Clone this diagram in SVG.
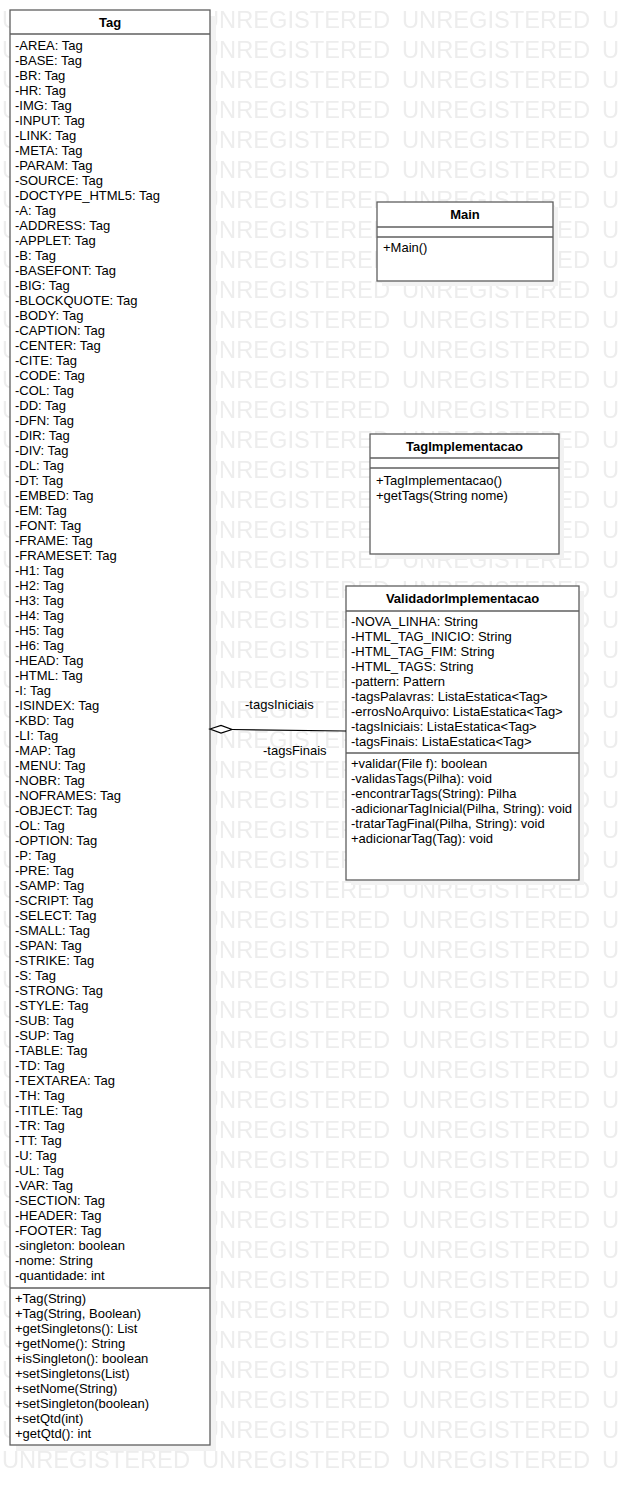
<svg xmlns="http://www.w3.org/2000/svg" width="619" height="1485" viewBox="0 0 619 1485">
<style>
  text { font-family: "Liberation Sans", Arial, sans-serif; font-size: 13px; fill: #000; }
  .title { font-weight: bold; text-anchor: middle; }
  .wm { font-size: 23px; fill: #ededed; }
  .box { fill: #fff; stroke: #5f5f5f; stroke-width: 1.3; }
  .sep { stroke: #5f5f5f; stroke-width: 1.3; }
  .shadow { fill: #f2f2f2; }
  .conn { stroke: #000; stroke-width: 1.2; fill: none; }
  .diamond { fill: #fff; stroke: #000; stroke-width: 1.2; }
</style>
<defs>
  <pattern id="watermark" patternUnits="userSpaceOnUse" x="0" y="0" width="200" height="30">
    <text class="wm" x="2" y="28" textLength="188" lengthAdjust="spacingAndGlyphs">UNREGISTERED</text>
  </pattern>
</defs>
<rect x="0" y="0" width="619" height="1485" fill="#fff"/>
<rect x="0" y="0" width="619" height="1472" fill="url(#watermark)"/>

<g id="Tag">
  <rect class="shadow" x="16" y="16" width="200" height="1435"/>
  <rect class="box" x="10" y="10" width="200" height="1435"/>
  <line class="sep" x1="10" y1="34" x2="210" y2="34"/>
  <line class="sep" x1="10" y1="1288" x2="210" y2="1288"/>
  <text class="title" x="110" y="27">Tag</text>
  <text x="15" y="50">-AREA: Tag</text>
  <text x="15" y="65">-BASE: Tag</text>
  <text x="15" y="80">-BR: Tag</text>
  <text x="15" y="95">-HR: Tag</text>
  <text x="15" y="110">-IMG: Tag</text>
  <text x="15" y="125">-INPUT: Tag</text>
  <text x="15" y="140">-LINK: Tag</text>
  <text x="15" y="155">-META: Tag</text>
  <text x="15" y="170">-PARAM: Tag</text>
  <text x="15" y="185">-SOURCE: Tag</text>
  <text x="15" y="200">-DOCTYPE_HTML5: Tag</text>
  <text x="15" y="215">-A: Tag</text>
  <text x="15" y="230">-ADDRESS: Tag</text>
  <text x="15" y="245">-APPLET: Tag</text>
  <text x="15" y="260">-B: Tag</text>
  <text x="15" y="275">-BASEFONT: Tag</text>
  <text x="15" y="290">-BIG: Tag</text>
  <text x="15" y="305">-BLOCKQUOTE: Tag</text>
  <text x="15" y="320">-BODY: Tag</text>
  <text x="15" y="335">-CAPTION: Tag</text>
  <text x="15" y="350">-CENTER: Tag</text>
  <text x="15" y="365">-CITE: Tag</text>
  <text x="15" y="380">-CODE: Tag</text>
  <text x="15" y="395">-COL: Tag</text>
  <text x="15" y="410">-DD: Tag</text>
  <text x="15" y="425">-DFN: Tag</text>
  <text x="15" y="440">-DIR: Tag</text>
  <text x="15" y="455">-DIV: Tag</text>
  <text x="15" y="470">-DL: Tag</text>
  <text x="15" y="485">-DT: Tag</text>
  <text x="15" y="500">-EMBED: Tag</text>
  <text x="15" y="515">-EM: Tag</text>
  <text x="15" y="530">-FONT: Tag</text>
  <text x="15" y="545">-FRAME: Tag</text>
  <text x="15" y="560">-FRAMESET: Tag</text>
  <text x="15" y="575">-H1: Tag</text>
  <text x="15" y="590">-H2: Tag</text>
  <text x="15" y="605">-H3: Tag</text>
  <text x="15" y="620">-H4: Tag</text>
  <text x="15" y="635">-H5: Tag</text>
  <text x="15" y="650">-H6: Tag</text>
  <text x="15" y="665">-HEAD: Tag</text>
  <text x="15" y="680">-HTML: Tag</text>
  <text x="15" y="695">-I: Tag</text>
  <text x="15" y="710">-ISINDEX: Tag</text>
  <text x="15" y="725">-KBD: Tag</text>
  <text x="15" y="740">-LI: Tag</text>
  <text x="15" y="755">-MAP: Tag</text>
  <text x="15" y="770">-MENU: Tag</text>
  <text x="15" y="785">-NOBR: Tag</text>
  <text x="15" y="800">-NOFRAMES: Tag</text>
  <text x="15" y="815">-OBJECT: Tag</text>
  <text x="15" y="830">-OL: Tag</text>
  <text x="15" y="845">-OPTION: Tag</text>
  <text x="15" y="860">-P: Tag</text>
  <text x="15" y="875">-PRE: Tag</text>
  <text x="15" y="890">-SAMP: Tag</text>
  <text x="15" y="905">-SCRIPT: Tag</text>
  <text x="15" y="920">-SELECT: Tag</text>
  <text x="15" y="935">-SMALL: Tag</text>
  <text x="15" y="950">-SPAN: Tag</text>
  <text x="15" y="965">-STRIKE: Tag</text>
  <text x="15" y="980">-S: Tag</text>
  <text x="15" y="995">-STRONG: Tag</text>
  <text x="15" y="1010">-STYLE: Tag</text>
  <text x="15" y="1025">-SUB: Tag</text>
  <text x="15" y="1040">-SUP: Tag</text>
  <text x="15" y="1055">-TABLE: Tag</text>
  <text x="15" y="1070">-TD: Tag</text>
  <text x="15" y="1085">-TEXTAREA: Tag</text>
  <text x="15" y="1100">-TH: Tag</text>
  <text x="15" y="1115">-TITLE: Tag</text>
  <text x="15" y="1130">-TR: Tag</text>
  <text x="15" y="1145">-TT: Tag</text>
  <text x="15" y="1160">-U: Tag</text>
  <text x="15" y="1175">-UL: Tag</text>
  <text x="15" y="1190">-VAR: Tag</text>
  <text x="15" y="1205">-SECTION: Tag</text>
  <text x="15" y="1220">-HEADER: Tag</text>
  <text x="15" y="1235">-FOOTER: Tag</text>
  <text x="15" y="1250">-singleton: boolean</text>
  <text x="15" y="1265">-nome: String</text>
  <text x="15" y="1280">-quantidade: int</text>
  <text x="15" y="1303">+Tag(String)</text>
  <text x="15" y="1318">+Tag(String, Boolean)</text>
  <text x="15" y="1333">+getSingletons(): List</text>
  <text x="15" y="1348">+getNome(): String</text>
  <text x="15" y="1363">+isSingleton(): boolean</text>
  <text x="15" y="1378">+setSingletons(List)</text>
  <text x="15" y="1393">+setNome(String)</text>
  <text x="15" y="1408">+setSingleton(boolean)</text>
  <text x="15" y="1423">+setQtd(int)</text>
  <text x="15" y="1438">+getQtd(): int</text>
</g>

<g id="Main">
  <rect class="shadow" x="382" y="207" width="176" height="79"/>
  <rect class="box" x="377" y="202" width="176" height="79"/>
  <line class="sep" x1="377" y1="227" x2="553" y2="227"/>
  <line class="sep" x1="377" y1="237" x2="553" y2="237"/>
  <text class="title" x="465" y="219">Main</text>
  <text x="383" y="252">+Main()</text>
</g>

<g id="TagImplementacao">
  <rect class="shadow" x="375" y="439" width="189" height="120"/>
  <rect class="box" x="370" y="434" width="189" height="120"/>
  <line class="sep" x1="370" y1="458" x2="559" y2="458"/>
  <line class="sep" x1="370" y1="468" x2="559" y2="468"/>
  <text class="title" x="464.5" y="451">TagImplementacao</text>
  <text x="376" y="485">+TagImplementacao()</text>
  <text x="376" y="500">+getTags(String nome)</text>
</g>

<g id="ValidadorImplementacao">
  <rect class="shadow" x="351" y="591" width="233" height="294"/>
  <rect class="box" x="346" y="586" width="233" height="294"/>
  <line class="sep" x1="346" y1="611" x2="579" y2="611"/>
  <line class="sep" x1="346" y1="753" x2="579" y2="753"/>
  <text class="title" x="462.5" y="603">ValidadorImplementacao</text>
  <text x="351" y="626">-NOVA_LINHA: String</text>
  <text x="351" y="641">-HTML_TAG_INICIO: String</text>
  <text x="351" y="656">-HTML_TAG_FIM: String</text>
  <text x="351" y="671">-HTML_TAGS: String</text>
  <text x="351" y="686">-pattern: Pattern</text>
  <text x="351" y="701">-tagsPalavras: ListaEstatica&lt;Tag&gt;</text>
  <text x="351" y="716">-errosNoArquivo: ListaEstatica&lt;Tag&gt;</text>
  <text x="351" y="731">-tagsIniciais: ListaEstatica&lt;Tag&gt;</text>
  <text x="351" y="746">-tagsFinais: ListaEstatica&lt;Tag&gt;</text>
  <text x="351" y="768">+validar(File f): boolean</text>
  <text x="351" y="783">-validasTags(Pilha): void</text>
  <text x="351" y="798">-encontrarTags(String): Pilha</text>
  <text x="351" y="813">-adicionarTagInicial(Pilha, String): void</text>
  <text x="351" y="828">-tratarTagFinal(Pilha, String): void</text>
  <text x="351" y="843">+adicionarTag(Tag): void</text>
</g>

<g id="connectors">
  <line class="conn" x1="232" y1="729.5" x2="346" y2="731"/>
  <polygon class="diamond" points="210,729 221,725.5 232,729.5 221,733"/>
  <text x="245" y="709">-tagsIniciais</text>
  <text x="263" y="755">-tagsFinais</text>
</g>
</svg>
